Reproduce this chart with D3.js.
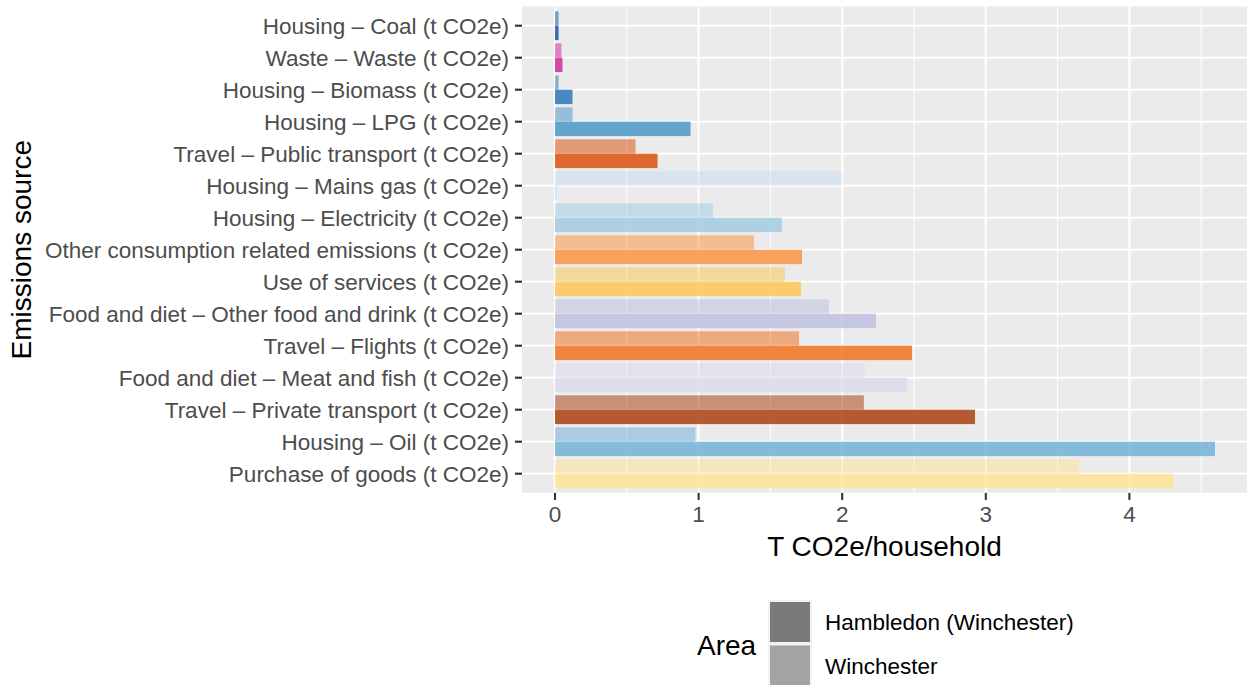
<!DOCTYPE html>
<html>
<head>
<meta charset="utf-8">
<script src="https://cdn.jsdelivr.net/npm/d3@7"></script>
<style>
    html, body { margin: 0; padding: 0; background: #ffffff; }
    svg { display: block; font-family: "Liberation Sans", Arial, sans-serif; }
    .tick-label { fill: #4d4d4d; font-size: 22.5px; }
    .axis-title { fill: #000000; font-size: 28px; }
    .legend-label { fill: #000000; font-size: 22.5px; }
</style>
</head>
<body>
<div id="chart"></div>
<script>
// Emission categories, top to bottom as drawn
const categories = [
    "Housing – Coal (t CO2e)",
    "Waste – Waste (t CO2e)",
    "Housing – Biomass (t CO2e)",
    "Housing – LPG (t CO2e)",
    "Travel – Public transport (t CO2e)",
    "Housing – Mains gas (t CO2e)",
    "Housing – Electricity (t CO2e)",
    "Other consumption related emissions (t CO2e)",
    "Use of services (t CO2e)",
    "Food and diet – Other food and drink (t CO2e)",
    "Travel – Flights (t CO2e)",
    "Food and diet – Meat and fish (t CO2e)",
    "Travel – Private transport (t CO2e)",
    "Housing – Oil (t CO2e)",
    "Purchase of goods (t CO2e)"
];

// T CO2e per household
const hambledonValues = [0.025, 0.052, 0.122, 0.944, 0.714, 0.01, 1.58, 1.72, 1.713, 2.235, 2.486, 2.451, 2.925, 4.596, 4.309];
const winchesterValues = [0.025, 0.045, 0.025, 0.122, 0.561, 1.994, 1.10, 1.386, 1.60, 1.908, 1.70, 2.157, 2.151, 0.978, 3.648];

// Fill colour per category
const categoryColors = [
    "#08519c", "#c91f97", "#2171b5", "#4292c6", "#d94801",
    "#c6dbef", "#9ecae1", "#fd8d3c", "#fec44f", "#bcbddc",
    "#f16913", "#dadaeb", "#a63603", "#6baed6", "#fee391"
];

const areas = ["Hambledon (Winchester)", "Winchester"];
const areaAlpha = [0.8, 0.5];
const legendKeyColors = ["#7a7a7a", "#a3a3a3"];

const xTicks = [0, 1, 2, 3, 4];
const xMinorTicks = [0.5, 1.5, 2.5, 3.5, 4.5];

function drawChart() {
    const width = 1247, height = 685;
    const panel = { left: 522, right: 1247, top: 6.5, bottom: 492.9 };

    const svg = d3.select("#chart")
        .append("svg")
        .attr("width", width)
        .attr("height", height);

    // Scales
    const x = d3.scaleLinear()
        .domain([-0.2298, 4.819])
        .range([panel.left, panel.right]);

    const y = d3.scalePoint()
        .domain(categories)
        .range([panel.top, panel.bottom])
        .padding(0.6);

    const step = y.step();
    const dodge = d3.scaleBand()
        .domain(["Winchester", "Hambledon (Winchester)"])
        .range([-0.45 * step, 0.45 * step]);

    // Panel background and grid
    svg.append("rect")
        .attr("x", panel.left)
        .attr("y", panel.top)
        .attr("width", panel.right - panel.left)
        .attr("height", panel.bottom - panel.top)
        .attr("fill", "#ebebeb");

    svg.append("g").selectAll("line")
        .data(xMinorTicks)
        .enter().append("line")
        .attr("x1", d => x(d)).attr("x2", d => x(d))
        .attr("y1", panel.top).attr("y2", panel.bottom)
        .attr("stroke", "#ffffff").attr("stroke-width", 1.05);

    svg.append("g").selectAll("line")
        .data(xTicks)
        .enter().append("line")
        .attr("x1", d => x(d)).attr("x2", d => x(d))
        .attr("y1", panel.top).attr("y2", panel.bottom)
        .attr("stroke", "#ffffff").attr("stroke-width", 2.1);

    svg.append("g").selectAll("line")
        .data(categories)
        .enter().append("line")
        .attr("x1", panel.left).attr("x2", panel.right)
        .attr("y1", d => y(d)).attr("y2", d => y(d))
        .attr("stroke", "#ffffff").attr("stroke-width", 2.1);

    // Bars: one row per category and area
    const rows = [];
    categories.forEach((c, i) => {
        rows.push({ cat: c, area: "Hambledon (Winchester)", value: hambledonValues[i], color: categoryColors[i], alpha: areaAlpha[0] });
        rows.push({ cat: c, area: "Winchester", value: winchesterValues[i], color: categoryColors[i], alpha: areaAlpha[1] });
    });

    svg.append("g").selectAll("rect")
        .data(rows)
        .enter().append("rect")
        .attr("x", x(0))
        .attr("y", d => y(d.cat) + dodge(d.area))
        .attr("width", d => x(d.value) - x(0))
        .attr("height", dodge.bandwidth())
        .attr("fill", d => d.color)
        .attr("fill-opacity", d => d.alpha);

    // Y axis ticks and labels
    const yAxis = svg.append("g");
    yAxis.selectAll("line")
        .data(categories)
        .enter().append("line")
        .attr("x1", panel.left - 7).attr("x2", panel.left)
        .attr("y1", d => y(d)).attr("y2", d => y(d))
        .attr("stroke", "#333333").attr("stroke-width", 2.1);
    yAxis.selectAll("text")
        .data(categories)
        .enter().append("text")
        .attr("class", "tick-label")
        .attr("x", panel.left - 13)
        .attr("y", d => y(d))
        .attr("dy", "0.36em")
        .attr("text-anchor", "end")
        .text(d => d);

    // X axis ticks and labels
    const xAxis = svg.append("g");
    xAxis.selectAll("line")
        .data(xTicks)
        .enter().append("line")
        .attr("x1", d => x(d)).attr("x2", d => x(d))
        .attr("y1", panel.bottom).attr("y2", panel.bottom + 7)
        .attr("stroke", "#333333").attr("stroke-width", 2.1);
    xAxis.selectAll("text")
        .data(xTicks)
        .enter().append("text")
        .attr("class", "tick-label")
        .attr("x", d => x(d))
        .attr("y", panel.bottom + 29)
        .attr("text-anchor", "middle")
        .text(d => d);

    // Axis titles
    svg.append("text")
        .attr("class", "axis-title")
        .attr("x", (panel.left + panel.right) / 2)
        .attr("y", 556)
        .attr("text-anchor", "middle")
        .text("T CO2e/household");

    svg.append("text")
        .attr("class", "axis-title")
        .attr("transform", `translate(31,${(panel.top + panel.bottom) / 2}) rotate(-90)`)
        .attr("text-anchor", "middle")
        .text("Emissions source");

    // Legend
    const legend = svg.append("g");
    legend.append("text")
        .attr("class", "axis-title")
        .attr("x", 697)
        .attr("y", 655)
        .text("Area");

    const keys = legend.selectAll("g.key")
        .data(areas)
        .enter().append("g")
        .attr("class", "key")
        .attr("transform", (d, i) => `translate(768,${600 + i * 43.5})`);
    keys.append("rect")
        .attr("width", 44).attr("height", 43.5)
        .attr("fill", "#f2f2f2");
    keys.append("rect")
        .attr("x", 2).attr("y", 2)
        .attr("width", 40).attr("height", 40)
        .attr("fill", (d, i) => legendKeyColors[i]);
    keys.append("text")
        .attr("class", "legend-label")
        .attr("x", 57)
        .attr("y", 22)
        .attr("dy", "0.36em")
        .text(d => d);
}

document.addEventListener('DOMContentLoaded', drawChart);
</script>
</body>
</html>
